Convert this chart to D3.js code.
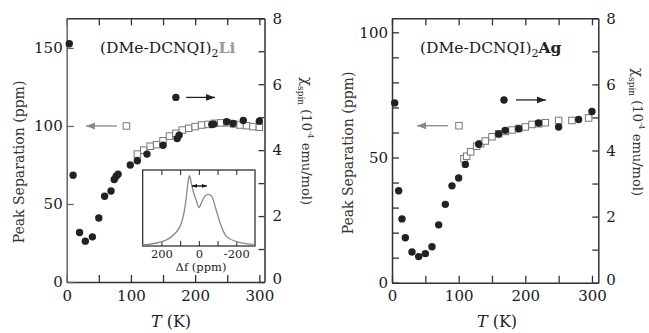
<!DOCTYPE html>
<html>
<head>
<meta charset="utf-8">
<script src="https://cdn.jsdelivr.net/npm/d3@7"></script>
<style>
body { margin: 0; background: #fff; }
svg { display: block; }
</style>
</head>
<body>
<div id="chart"></div>
<script>
// define constants
const w = 649;
const h = 333;
const font = "'DejaVu Serif', serif";

// (DMe-DCNQI)2Li : spin susceptibility (filled circles, right axis)
const liChiT = [4, 10, 20, 29, 40, 50, 59, 69, 74, 77, 80, 99, 110, 125, 150, 172, 175, 226, 229, 249, 259, 275, 300];
const liChi = [7.23, 3.24, 1.5, 1.24, 1.37, 1.94, 2.6, 2.76, 3.11, 3.21, 3.27, 3.55, 3.68, 3.88, 4.15, 4.35, 4.45, 4.78, 4.79, 4.86, 4.81, 4.9, 4.88];
// (DMe-DCNQI)2Li : peak separation (open squares, left axis)
const liSepT = [110, 120, 130, 140, 150, 160, 170, 180, 190, 200, 210, 220, 230, 240, 250, 260, 270, 280, 290, 300];
const liSep = [82, 84.5, 87, 88, 90.5, 93.5, 95.3, 97.4, 98.5, 99.6, 100.6, 101, 101.7, 102, 102, 101.3, 100.6, 100.2, 99.6, 99.2];

// (DMe-DCNQI)2Ag
const agChiT = [4, 10, 15, 20, 30, 40, 50, 60, 70, 80, 90, 100, 110, 130, 160, 170, 190, 220, 250, 280, 300];
const agChi = [5.44, 2.78, 1.93, 1.36, 0.93, 0.79, 0.88, 1.09, 1.75, 2.37, 2.93, 3.17, 3.58, 4.19, 4.5, 4.61, 4.66, 4.83, 4.71, 4.94, 5.18];
const agSepT = [108, 112, 118, 127, 133, 140, 150, 160, 170, 180, 190, 200, 210, 220, 230, 250, 270, 295];
const agSep = [49.5, 50.5, 52.3, 54.5, 55.5, 56.6, 58.3, 59.5, 60.4, 61, 61.6, 62.2, 63.2, 63.5, 63.9, 64.8, 64.8, 65.8];

// inset: NMR spectrum of the Li salt
const specShift = [300, 207, 136, 91, 70, 56, 50, 40, 29, 11, 0, -16, -34, -51, -70, -87, -114, -150, -221, -292];
const specInt = [0.013, 0.05, 0.145, 0.32, 0.58, 0.87, 0.925, 0.82, 0.71, 0.58, 0.505, 0.58, 0.66, 0.68, 0.65, 0.52, 0.30, 0.12, 0.045, 0.022];
const insetTicks = [200, 100, 0, -100, -200];
const insetLabels = [200, 0, -200];

const svg = d3.select("#chart").append("svg").attr("width", w).attr("height", h);

// arrow helper (line + filled head at the end)
function arrow(g, x1, y1, x2, y2, color, head, both) {
    g.append("line").attr("x1", x1).attr("y1", y1).attr("x2", x2).attr("y2", y2)
        .attr("stroke", color).attr("stroke-width", 1.3);
    const tip = (xa, ya, xb) => {
        const dir = xb > xa ? 1 : -1;
        g.append("path")
            .attr("d", `M${xb},${ya} L${xb - dir * head},${ya - head * 0.38} L${xb - dir * head},${ya + head * 0.38} Z`)
            .attr("fill", color);
    };
    tip(x1, y1, x2);
    if (both) tip(x2, y2, x1);
}

function panel(o) {
    const g = svg.append("g");
    const x = d3.scaleLinear().domain([0, o.tMax]).range([o.x0, o.x1]);
    const yL = d3.scaleLinear().domain([0, o.sepMax]).range([o.y0, o.y1]);
    const yR = d3.scaleLinear().domain([0, 8]).range([o.y0, o.y1]);

    const style = (sel, color) => {
        sel.attr("font-family", font).attr("font-size", 15);
        sel.select(".domain").attr("stroke", color).attr("stroke-width", 1.5);
        sel.selectAll(".tick line").attr("stroke", color).attr("stroke-width", 1.3);
        sel.selectAll(".tick text").attr("fill", "#1a1a1a");
    };

    // axes
    g.append("g").attr("transform", `translate(0,${o.y1})`)
        .call(d3.axisTop(x).tickValues(d3.range(0, 301, 50)).tickSize(-7).tickSizeOuter(0).tickFormat(""))
        .call(style, "#333");
    g.append("g").attr("transform", `translate(0,${o.y0})`)
        .call(d3.axisBottom(x).tickValues(d3.range(0, 301, 50)).tickSize(-7).tickSizeOuter(0).tickPadding(8)
            .tickFormat(d => d % 100 === 0 ? d : ""))
        .call(style, "#333");
    g.append("g").attr("transform", `translate(${o.x0},0)`)
        .call(d3.axisLeft(yL).tickValues(o.sepTicks).tickSize(-7).tickSizeOuter(0).tickPadding(4)
            .tickFormat(d => d % 50 === 0 ? d : ""))
        .call(style, o.leftColor);
    g.append("g").attr("transform", `translate(${o.x1},0)`)
        .call(d3.axisRight(yR).tickValues(d3.range(0, 9)).tickSize(-6).tickSizeOuter(0).tickPadding(8)
            .tickFormat(d => d % 2 === 0 ? d : ""))
        .call(style, "#333")
        .call(s => s.selectAll(".tick text").attr("dy", d => d === 0 ? "0.1em" : "0.32em"));

    // squares (peak separation)
    const sq = 6.5;
    g.append("g").selectAll("rect")
        .data(o.sepT.map((t, i) => [t, o.sep[i]]))
        .join("rect")
        .attr("x", d => x(d[0]) - sq / 2).attr("y", d => yL(d[1]) - sq / 2)
        .attr("width", sq).attr("height", sq)
        .attr("fill", "#fff").attr("stroke", "#777").attr("stroke-width", 1);

    // circles (spin susceptibility)
    g.append("g").selectAll("circle")
        .data(o.chiT.map((t, i) => [t, o.chi[i]]))
        .join("circle")
        .attr("cx", d => x(d[0])).attr("cy", d => yR(d[1])).attr("r", 3.7)
        .attr("fill", "#222");

    // legend marks with arrows
    g.append("rect")
        .attr("x", x(o.legSq[0]) - sq / 2).attr("y", yL(o.legSq[1]) - sq / 2)
        .attr("width", sq).attr("height", sq)
        .attr("fill", "#fff").attr("stroke", "#777");
    arrow(g, x(o.legSqArrow[0]), yL(o.legSq[1]), x(o.legSqArrow[1]), yL(o.legSq[1]), "#888", 9, false);
    g.append("circle").attr("cx", x(o.legCi[0])).attr("cy", yR(o.legCi[1])).attr("r", 3.7).attr("fill", "#222");
    arrow(g, x(o.legCiArrow[0]), yR(o.legCi[1]), x(o.legCiArrow[1]), yR(o.legCi[1]), "#222", 9, false);

    // compound label
    const t = g.append("text").attr("x", o.labelX).attr("y", 53)
        .attr("font-family", font).attr("font-size", 15.5).attr("fill", "#1a1a1a");
    t.append("tspan").text("(DMe-DCNQI)");
    t.append("tspan").attr("dy", 4).attr("font-size", 11).text("2");
    t.append("tspan").attr("dy", -4).attr("font-weight", "bold").attr("fill", o.metalColor).text(o.metal);

    // axis titles
    g.append("text")
        .attr("transform", `translate(${o.leftTitleX},${o.leftTitleY}) rotate(-90)`)
        .attr("text-anchor", "middle").attr("font-family", font).attr("font-size", 14).attr("fill", "#333")
        .text("Peak Separation (ppm)");

    const r = g.append("text")
        .attr("transform", `translate(${o.rightTitleX},${o.rightTitleY}) rotate(90)`)
        .attr("font-family", font).attr("font-size", 13).attr("fill", "#333");
    r.append("tspan").attr("font-size", 15).text("\u03c7");
    r.append("tspan").attr("dy", 4).attr("font-size", 9).text("spin");
    r.append("tspan").attr("dy", -4).text(" (10");
    r.append("tspan").attr("dy", -6).attr("font-size", 8).text("-4");
    r.append("tspan").attr("dy", 6).text(" emu/mol)");

    const b = g.append("text").attr("x", o.xTitleX).attr("y", 327)
        .attr("text-anchor", "middle").attr("font-family", font).attr("font-size", 16).attr("fill", "#222");
    b.append("tspan").attr("font-style", "italic").text("T");
    b.append("tspan").text(" (K)");
}

panel({
    x0: 66.7, x1: 264.5, y0: 282, y1: 18.3, tMax: 308, sepMax: 169,
    sepTicks: [0, 50, 100, 150], leftColor: "#666",
    sepT: liSepT, sep: liSep, chiT: liChiT, chi: liChi,
    legSq: [93, 100], legSqArrow: [78, 30], legCi: [170, 5.6], legCiArrow: [186, 231],
    labelX: 100, metal: "Li", metalColor: "#999",
    leftTitleX: 24, leftTitleY: 162, rightTitleX: 302, rightTitleY: 77, xTitleX: 171
});

panel({
    x0: 392, x1: 598.3, y0: 282.7, y1: 18.3, tMax: 309.5, sepMax: 105.6,
    sepTicks: d3.range(0, 101, 10), leftColor: "#333",
    sepT: agSepT, sep: agSep, chiT: agChiT, chi: agChi,
    legSq: [100.5, 62.7], legSqArrow: [84, 37.5], legCi: [168, 5.53], legCiArrow: [186, 231],
    labelX: 420, metal: "Ag", metalColor: "#222",
    leftTitleX: 353, leftTitleY: 153, rightTitleX: 633, rightTitleY: 68, xTitleX: 497
});

// inset spectrum
const ix = d3.scaleLinear().domain([300, -300]).range([142.7, 255]);
const iy = d3.scaleLinear().domain([0, 1]).range([246, 170]);
const inset = svg.append("g");
inset.append("rect").attr("x", 142.7).attr("y", 170).attr("width", 255 - 142.7).attr("height", 76)
    .attr("fill", "#fff").attr("stroke", "#222").attr("stroke-width", 1.2);
inset.append("g").attr("transform", "translate(0,170)")
    .call(d3.axisTop(ix).tickValues(insetTicks).tickSize(-5).tickSizeOuter(0).tickFormat(""))
    .call(s => { s.select(".domain").remove(); s.selectAll("line").attr("stroke", "#222"); });
inset.append("g").attr("transform", "translate(0,246)")
    .call(d3.axisBottom(ix).tickValues(insetTicks).tickSize(-5).tickSizeOuter(0).tickPadding(4)
        .tickFormat(d => insetLabels.includes(d) ? d : ""))
    .call(s => {
        s.select(".domain").remove();
        s.selectAll("line").attr("stroke", "#222");
        s.attr("font-family", font).attr("font-size", 11.5);
        s.selectAll("text").attr("fill", "#222");
    });
inset.append("path")
    .datum(specShift.map((d, i) => [d, specInt[i]]))
    .attr("fill", "none").attr("stroke", "#888").attr("stroke-width", 1.3)
    .attr("d", d3.line().x(d => ix(d[0])).y(d => iy(d[1])).curve(d3.curveMonotoneX));
arrow(inset, ix(37), iy(0.79), ix(-43), iy(0.79), "#111", 5, true);
inset.append("text").attr("x", 201).attr("y", 271).attr("text-anchor", "middle")
    .attr("font-family", font).attr("font-size", 11.5).attr("fill", "#222")
    .text("\u0394f (ppm)");
</script>
</body>
</html>
